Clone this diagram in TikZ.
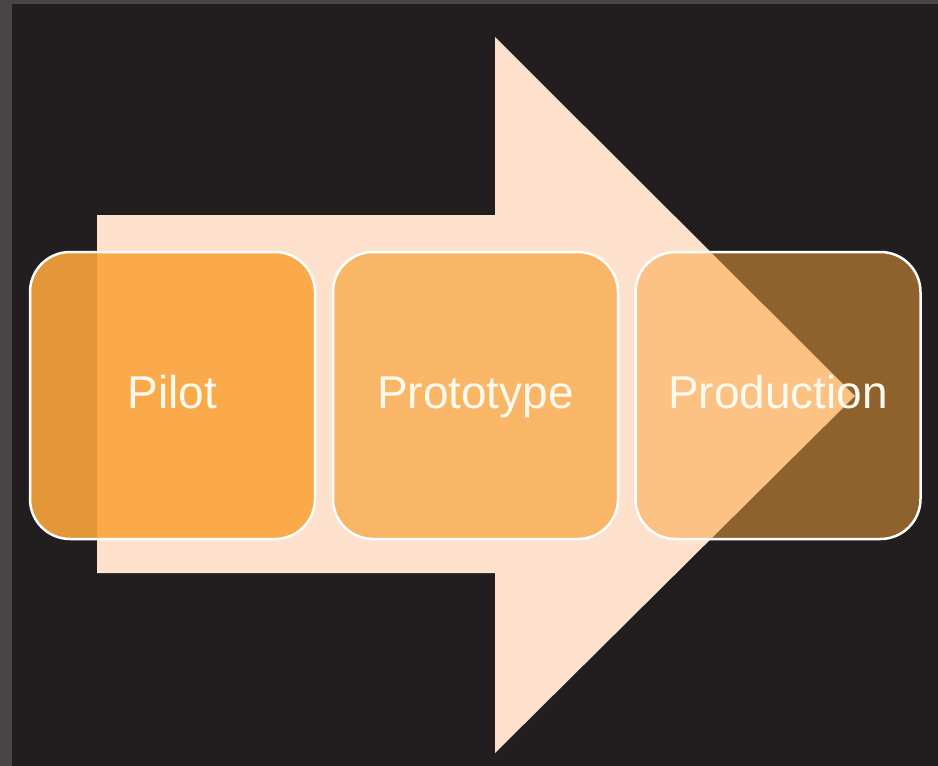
\documentclass[tikz,border=0pt]{standalone}
\usepackage{fontspec}
\setmainfont{Liberation Sans}
\definecolor{frame}{HTML}{474546}
\definecolor{bgdark}{HTML}{221E1F}
\definecolor{arrowfill}{HTML}{FDE1CD}
\definecolor{boxorange}{HTML}{FAA53C}
\definecolor{txt}{HTML}{FFF9EE}
\tikzset{
  stage/.style={draw=white, line width=2.5pt, rounded corners=40pt, fill=boxorange,
    minimum width=285pt, minimum height=287pt, inner sep=0pt,
    text height=33pt, text depth=8pt,
    text=txt, font=\fontsize{46}{50}\selectfont},
}
\begin{document}
\begin{tikzpicture}[x=1pt,y=-1pt]
\useasboundingbox (0,0) rectangle (938,766);
\fill[frame] (0,0) rectangle (938,766);
\fill[bgdark] (12,4) rectangle (938,766);
% big arrow
\fill[arrowfill] (97,215) -- (495,215) -- (495,37) -- (855,396) -- (495,753) -- (495,573) -- (97,573) -- cycle;
% stages
\node[stage, fill opacity=0.9, text opacity=1] (pilot) at (172.5,395.5) {Pilot};
\node[stage, fill opacity=0.7, text opacity=1] (proto) at (475.5,395.5) {Prototype};
\node[stage, fill opacity=0.5, text opacity=1] (prod) at (778,395.5) {Production};
\end{tikzpicture}
\end{document}
